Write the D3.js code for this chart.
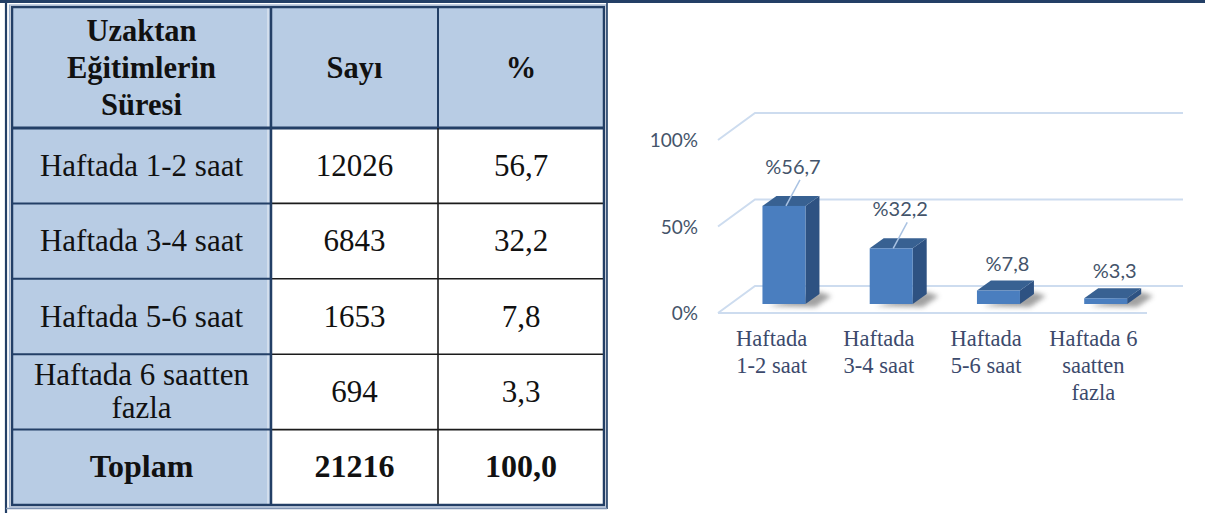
<!DOCTYPE html>
<html>
<head>
<meta charset="utf-8">
<script src="https://cdn.jsdelivr.net/npm/d3@7"></script>
<style>
	html, body { margin: 0; padding: 0; background: #fff; }
	svg { display: block; }
</style>
</head>
<body>
<svg id="chart"></svg>
<script>
//table + chart data
var headerLines = [["Uzaktan", "Eğitimlerin", "Süresi"], ["Sayı"], ["%"]];
var rowLabels   = [["Haftada 1-2 saat"], ["Haftada 3-4 saat"], ["Haftada 5-6 saat"], ["Haftada 6 saatten", "fazla"]];
var counts      = [12026, 6843, 1653, 694];
var percents    = [56.7, 32.2, 7.8, 3.3];
var totalLabel  = "Toplam";
var totalCount  = 21216;
var totalPct    = 100.0;

var categories  = ["1-2", "3-4", "5-6", "6+"];
var axisLabels  = [["Haftada", "1-2 saat"], ["Haftada", "3-4 saat"], ["Haftada", "5-6 saat"], ["Haftada 6", "saatten", "fazla"]];
var yTicks      = [0, 50, 100];

var width = 1213, height = 513;
var tr = d3.formatLocale({decimal: ",", thousands: ".", grouping: [3], currency: ["", ""]});
var fmt1 = tr.format(".1f");

var svg = d3.select("#chart")
	.attr("width", width)
	.attr("height", height);

var navy = "#233f66";
var lightBlue = "#b8cce4";

//---------------- table ----------------
var colEdges = [12, 271, 438, 604];
var tableTop = 7, headBottom = 128, tableBottom = 505;

var rows = d3.range(rowLabels.length + 1);
var yRow = d3.scaleBand().domain(rows).range([headBottom, tableBottom]);

var tbl = svg.append("g").attr("class", "table");

// fills
tbl.append("rect")
	.attr("x", colEdges[0]).attr("y", tableTop)
	.attr("width", colEdges[3] - colEdges[0]).attr("height", headBottom - tableTop)
	.attr("fill", lightBlue);
tbl.append("rect")
	.attr("x", colEdges[0]).attr("y", headBottom)
	.attr("width", colEdges[1] - colEdges[0]).attr("height", tableBottom - headBottom)
	.attr("fill", lightBlue);

// light highlight next to dark lines
tbl.append("line")
	.attr("x1", colEdges[1] - 3).attr("x2", colEdges[1] - 3)
	.attr("y1", tableTop).attr("y2", tableBottom)
	.attr("stroke", "#dbe5f1").attr("stroke-width", 1.5);

// row lines
rows.forEach(function(r){
	var y = yRow(r);
	tbl.append("line")
		.attr("x1", colEdges[0]).attr("x2", colEdges[1])
		.attr("y1", y).attr("y2", y)
		.attr("stroke", navy).attr("stroke-width", r == 0 ? 3 : 2);
	tbl.append("line")
		.attr("x1", colEdges[1]).attr("x2", colEdges[3])
		.attr("y1", y).attr("y2", y)
		.attr("stroke", r == 0 ? navy : "#1b1b1b").attr("stroke-width", r == 0 ? 3 : 1.6);
});

// column lines
tbl.append("line")
	.attr("x1", colEdges[1]).attr("x2", colEdges[1])
	.attr("y1", tableTop).attr("y2", tableBottom)
	.attr("stroke", navy).attr("stroke-width", 2.5);
tbl.append("line")
	.attr("x1", colEdges[2]).attr("x2", colEdges[2])
	.attr("y1", tableTop).attr("y2", headBottom)
	.attr("stroke", navy).attr("stroke-width", 2);
tbl.append("line")
	.attr("x1", colEdges[2]).attr("x2", colEdges[2])
	.attr("y1", headBottom).attr("y2", tableBottom)
	.attr("stroke", "#1b1b1b").attr("stroke-width", 1.6);

// table border (double look)
tbl.append("rect")
	.attr("x", colEdges[0]).attr("y", tableTop)
	.attr("width", colEdges[3] - colEdges[0]).attr("height", tableBottom - tableTop)
	.attr("fill", "none").attr("stroke", navy).attr("stroke-width", 2.5);
tbl.append("rect")
	.attr("x", colEdges[0] - 2.5).attr("y", tableTop - 2)
	.attr("width", colEdges[3] - colEdges[0] + 5).attr("height", tableBottom - tableTop + 4)
	.attr("fill", "none").attr("stroke", "#9fb3cf").attr("stroke-width", 1.2);

// outer frame
svg.append("line")
	.attr("x1", 0).attr("x2", 1205).attr("y1", 1.5).attr("y2", 1.5)
	.attr("stroke", navy).attr("stroke-width", 3);
svg.append("line")
	.attr("x1", 6).attr("x2", 6).attr("y1", 0).attr("y2", height)
	.attr("stroke", navy).attr("stroke-width", 2.2);
svg.append("line")
	.attr("x1", 607).attr("x2", 607).attr("y1", 3).attr("y2", 509)
	.attr("stroke", navy).attr("stroke-width", 1.6);
svg.append("line")
	.attr("x1", 6).attr("x2", 607).attr("y1", 508.5).attr("y2", 508.5)
	.attr("stroke", "#8094b3").attr("stroke-width", 1.4);

// cell text
function cellText(lines, col, yTop, yBot, bold, lineH, size){
	var cx = (colEdges[col] + colEdges[col + 1]) / 2;
	var cy = (yTop + yBot) / 2;
	var t = tbl.append("text")
		.attr("text-anchor", "middle")
		.attr("font-family", "'Liberation Serif', 'Times New Roman', serif")
		.attr("font-size", size)
		.attr("font-weight", bold ? "bold" : "normal")
		.attr("fill", "#111");
	var y0 = cy - (lines.length - 1) * lineH / 2 + 10;
	lines.forEach(function(l, i){
		t.append("tspan").attr("x", cx).attr("y", y0 + i * lineH).text(l);
	});
}

headerLines.forEach(function(h, i){
	cellText(h, i, tableTop, headBottom, true, 37, 30.5);
});
rowLabels.forEach(function(lbl, i){
	var y0 = yRow(i), y1 = y0 + yRow.bandwidth();
	cellText(lbl, 0, y0, y1, false, 33, 31);
	cellText([String(counts[i])], 1, y0, y1, false, 33, 31);
	cellText([fmt1(percents[i])], 2, y0, y1, false, 33, 31);
});
var ty0 = yRow(rowLabels.length), ty1 = ty0 + yRow.bandwidth();
cellText([totalLabel], 0, ty0, ty1, true, 33, 32);
cellText([String(totalCount)], 1, ty0, ty1, true, 33, 32);
cellText([fmt1(totalPct)], 2, ty0, ty1, true, 33, 32);

//---------------- 3d bar chart ----------------
var floorX0 = 718, floorX1 = 1147;
var depthX = 37, depthY = -27;
var yF = d3.scaleLinear().domain([0, 100]).range([313, 140]);
var x = d3.scaleBand().domain(categories).range([floorX0, floorX1]);

var chart = svg.append("g").attr("class", "chart3d");

var defs = svg.append("defs");
defs.append("filter").attr("id", "blur")
	.attr("x", "-50%").attr("y", "-50%").attr("width", "200%").attr("height", "200%")
	.append("feGaussianBlur").attr("stdDeviation", 2.5);

var gridColor = "#cddcef";

// gridlines (wall + floor)
yTicks.forEach(function(t){
	var y = yF(t);
	chart.append("path")
		.attr("d", "M" + floorX0 + "," + y + "L" + (floorX0 + depthX) + "," + (y + depthY) +
			"L" + (floorX1 + depthX - 1) + "," + (y + depthY))
		.attr("fill", "none").attr("stroke", gridColor).attr("stroke-width", 2);
	chart.append("text")
		.attr("x", 698).attr("y", y + 7)
		.attr("text-anchor", "end")
		.attr("font-family", "Lato, 'Open Sans', sans-serif")
		.attr("font-size", 19)
		.attr("fill", "#44546a")
		.text(t + "%");
});
chart.append("line")
	.attr("x1", floorX0).attr("x2", floorX1)
	.attr("y1", yF(0)).attr("y2", yF(0))
	.attr("stroke", gridColor).attr("stroke-width", 2);

// bars
var barW = 43, bDx = 14, bDy = -10;
var shiftX = depthX / 3, shiftY = depthY / 3;

percents.forEach(function(v, i){
	var cx = x(categories[i]) + x.bandwidth() / 2 + shiftX;
	var x0 = cx - barW / 2, x1 = cx + barW / 2;
	var yb = yF(0) + shiftY;
	var yt = yb - (yF(0) - yF(v));
	var g = chart.append("g");

	// soft shadow on floor
	g.append("path")
		.attr("d", "M" + (x0 + 6) + "," + (yb + 2) + "L" + (x1 + 10) + "," + (yb + 3) +
			"L" + (x1 + bDx + 12) + "," + (yb + bDy + 2) + "L" + (x1 + bDx) + "," + (yb + bDy - 2) + "Z")
		.attr("fill", "#555").attr("opacity", 0.55).attr("filter", "url(#blur)");

	// side face
	g.append("path")
		.attr("d", "M" + x1 + "," + yb + "L" + (x1 + bDx) + "," + (yb + bDy) +
			"L" + (x1 + bDx) + "," + (yt + bDy) + "L" + x1 + "," + yt + "Z")
		.attr("fill", "#2e5282");
	// top face
	g.append("path")
		.attr("d", "M" + x0 + "," + yt + "L" + x1 + "," + yt +
			"L" + (x1 + bDx) + "," + (yt + bDy) + "L" + (x0 + bDx) + "," + (yt + bDy) + "Z")
		.attr("fill", "#386192");
	// front face
	g.append("rect")
		.attr("x", x0).attr("y", yt)
		.attr("width", barW).attr("height", yb - yt)
		.attr("fill", "#4a7ebf");

	// data label (with leader line for tall bars)
	var lift = v > 20 ? 22 : 10;
	var ly = yt + bDy - lift;
	var lx = cx + 9;
	if (v > 20) {
		g.append("line")
			.attr("x1", lx + 7).attr("y1", ly + 6)
			.attr("x2", cx + 2).attr("y2", yt)
			.attr("stroke", "#a9c2e2").attr("stroke-width", 1.5);
	}
	g.append("text")
		.attr("x", lx).attr("y", ly)
		.attr("text-anchor", "middle")
		.attr("font-family", "Lato, 'Open Sans', sans-serif")
		.attr("font-size", 20)
		.attr("fill", "#44546a")
		.text("%" + fmt1(v));
});

// category labels
axisLabels.forEach(function(lines, i){
	var cx = x(categories[i]) + x.bandwidth() / 2;
	var t = chart.append("text")
		.attr("text-anchor", "middle")
		.attr("font-family", "'Liberation Serif', 'Times New Roman', serif")
		.attr("font-size", 22.5)
		.attr("fill", "#3c4a6c");
	lines.forEach(function(l, j){
		t.append("tspan").attr("x", cx).attr("y", 346 + j * 27).text(l);
	});
});
</script>
</body>
</html>
